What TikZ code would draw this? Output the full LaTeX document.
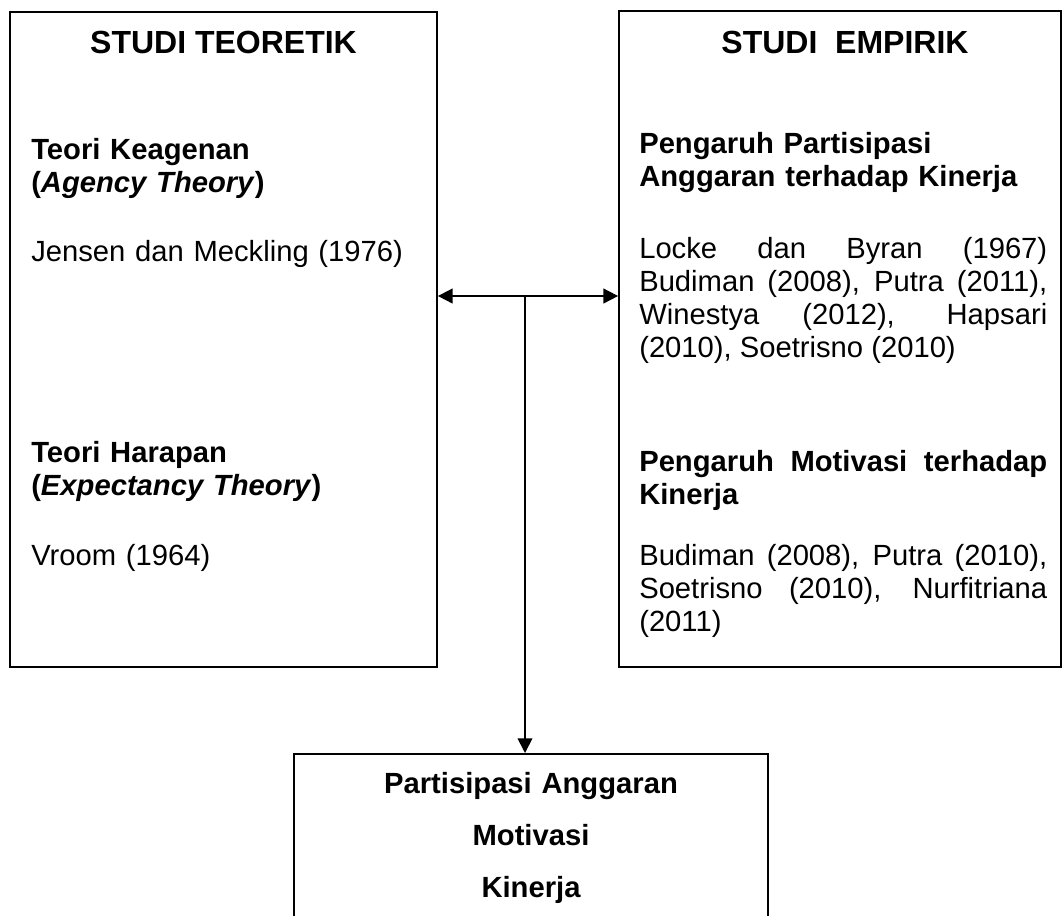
\documentclass[tikz,border=0pt]{standalone}
\usepackage{fontspec}
\setmainfont{Liberation Sans}
\usetikzlibrary{positioning,arrows.meta}
\tolerance=10000
\hyphenpenalty=10000
\exhyphenpenalty=10000

\begin{document}
\begin{tikzpicture}[
    x=0.75pt, y=-0.75pt,
    box/.style={draw, line width=1.3pt, inner sep=0pt},
    head/.style={font=\fontsize{24}{28}\selectfont\bfseries, anchor=base, inner sep=0pt},
    txt/.style={font=\fontsize{21.9}{24.75}\selectfont, anchor=base west, inner sep=0pt, text width=300pt, align=left},
    jtxt/.style={txt, text width=306pt, align=justify},
    arrow/.style={line width=1.3pt, >={Triangle[length=11pt,width=11pt]}}
]
\useasboundingbox (0,0) rectangle (1062,915);

% Boxes
\node [box, minimum width=320.25pt, minimum height=491.25pt] (teori) at (223.5,339.5) {};
\node [box, minimum width=331.5pt, minimum height=492pt] (empiri) at (840,339) {};
\node [box, minimum width=355.5pt, minimum height=150pt, anchor=north] (var) at (531,753) {};

% Studi teoretik
\node [head] (teorihead) at (223.5,53) {STUDI TEORETIK};
\node [txt] (agency) at (31,159) {\textbf{Teori Keagenan}\\\textbf{(\textit{Agency Theory})}};
\node [txt] (jensen) at (31,261) {Jensen dan Meckling (1976)};
\node [txt] (expect) at (31,462) {\textbf{Teori Harapan}\\\textbf{(\textit{Expectancy Theory})}};
\node [txt] (vroom) at (31,565) {Vroom (1964)};

% Studi empirik
\node [head] (empirihead) at (845,53) {STUDI\ \ EMPIRIK};
\node [txt] (partkin) at (639,153) {\textbf{Pengaruh Partisipasi}\\\textbf{Anggaran terhadap Kinerja}};
\node [jtxt] (locke) at (639,258) {Locke dan Byran (1967) Budiman (2008), Putra (2011), Winestya (2012), Hapsari (2010), Soetrisno (2010)};
\node [jtxt] (motkin) at (639,471) {\textbf{Pengaruh Motivasi terhadap Kinerja}};
\node [jtxt] (budiman) at (639,565) {Budiman (2008), Putra (2010), Soetrisno (2010), Nurfitriana (2011)};

% Variabel
\node [font=\fontsize{21.9}{39}\selectfont\bfseries, text width=355pt, align=center, anchor=base, inner sep=0pt] (varlist) at (531,793) {Partisipasi Anggaran\\Motivasi\\Kinerja};

% Arrows
\coordinate (junc) at (525,296);
\draw [arrow, <->] (teori.east |- junc) -- (empiri.west |- junc);
\draw [arrow, ->] (junc) -- (junc |- var.north);

\end{tikzpicture}
\end{document}
